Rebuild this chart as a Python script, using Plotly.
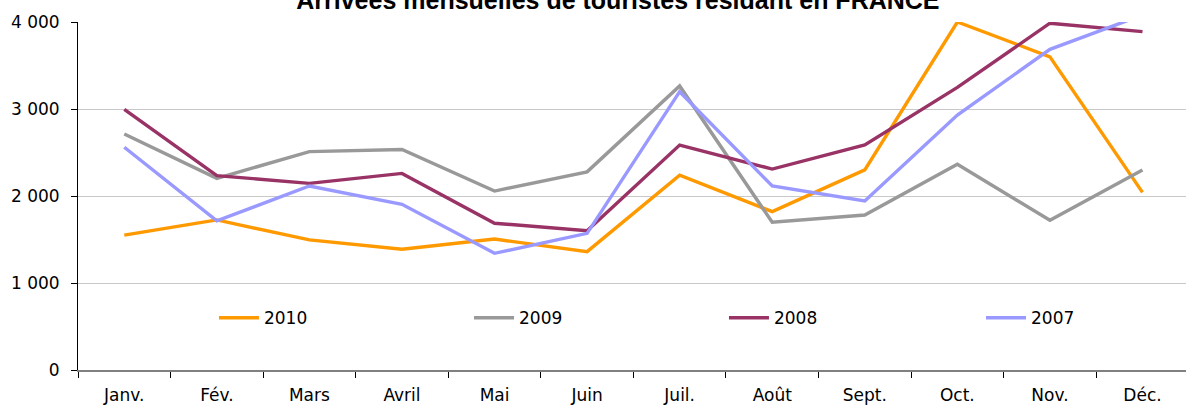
import plotly.graph_objects as go

months = ["Janv.", "Fév.", "Mars", "Avril", "Mai", "Juin", "Juil.", "Août", "Sept.", "Oct.", "Nov.", "Déc."]

y2010 = [1550, 1725, 1495, 1388, 1505, 1360, 2240, 1820, 2300, 4000, 3600, 2042]
y2009 = [2713, 2203, 2510, 2535, 2057, 2278, 3265, 1698, 1782, 2365, 1722, 2299]
y2008 = [2996, 2234, 2145, 2260, 1687, 1602, 2586, 2310, 2586, 3249, 3986, 3890]
y2007 = [2560, 1715, 2115, 1904, 1341, 1571, 3199, 2115, 1943, 2931, 3686, 4080]

series_names = ["2010", "2009", "2008", "2007"]
series_values = [y2010, y2009, y2008, y2007]
series_colors = ["#FF9900", "#999999", "#993366", "#9999FF"]
legend_ids = ["legend", "legend2", "legend3", "legend4"]
legend_x = [0.1227, 0.3529, 0.5830, 0.8150]

title_text = "Arrivées mensuelles de touristes résidant en FRANCE"

fig = go.Figure()
for name, vals, col, lid in zip(series_names, series_values, series_colors, legend_ids):
    fig.add_trace(go.Scatter(
        x=months, y=vals, name=name, mode="lines",
        line=dict(color=col, width=3.4),
        legend=lid,
    ))

font_family = "DejaVu Sans, Verdana, sans-serif"
legend_font = dict(family=font_family, size=17, color="black")

layout_legends = {}
for lid, lx in zip(legend_ids, legend_x):
    layout_legends[lid] = dict(
        x=lx, xanchor="left", y=0.149, yanchor="middle",
        bgcolor="rgba(0,0,0,0)", font=legend_font,
        orientation="h", itemwidth=40,
    )

fig.update_layout(
    width=1186, height=406,
    margin=dict(l=78, r=0, t=22, b=36),
    paper_bgcolor="white", plot_bgcolor="white",
    separators=", ",
    font=dict(family=font_family, size=17, color="black"),
    title=dict(
        text="<b>" + title_text + "</b>",
        x=0.521, xanchor="center", xref="container",
        y=1.0, yanchor="middle", yref="container",
        font=dict(family="Liberation Sans, Arial, sans-serif", size=25, color="black"),
    ),
    showlegend=True,
    xaxis=dict(
        type="category",
        range=[-0.5, 11.47],
        tickson="boundaries",
        ticks="outside", ticklen=6, tickcolor="black", tickwidth=1,
        showline=True, linecolor="#808080", linewidth=1.5,
        showgrid=False, zeroline=False,
        ticklabelstandoff=9,
        tickfont=dict(family=font_family, size=17, color="black"),
    ),
    yaxis=dict(
        range=[0, 4000],
        tickvals=[0, 1000, 2000, 3000, 4000],
        tickformat=",d",
        ticks="outside", ticklen=6, tickcolor="black", tickwidth=1,
        showline=True, linecolor="black", linewidth=1,
        showgrid=True, gridcolor="#C8C8C8", gridwidth=1,
        zeroline=False,
        ticklabelstandoff=8,
        tickfont=dict(family=font_family, size=17, color="black"),
    ),
    **layout_legends,
)

fig.write_html("out.html", config={"displayModeBar": False})

# remove the default page margin so the figure starts at the window's top-left corner
with open("out.html", "r", encoding="utf-8") as f:
    html = f.read()
html = html.replace("<head>", "<head><style>html,body{margin:0;padding:0;overflow:hidden;}</style>", 1)
with open("out.html", "w", encoding="utf-8") as f:
    f.write(html)
